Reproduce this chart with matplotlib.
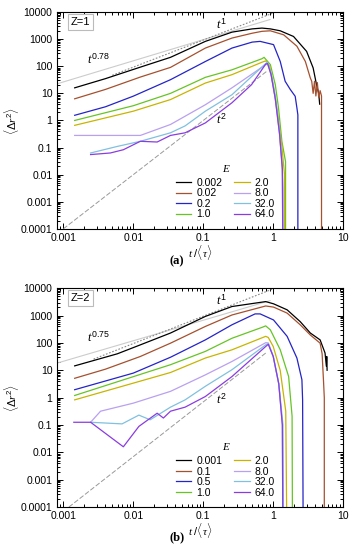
import numpy as np
import matplotlib
matplotlib.use('Agg')
import matplotlib.pyplot as plt
from matplotlib.ticker import LogLocator, FuncFormatter, NullFormatter
from matplotlib.font_manager import FontProperties

plt.rcParams['font.family'] = ['Liberation Sans', 'DejaVu Sans']
plt.rcParams['mathtext.fontset'] = 'custom'
plt.rcParams['mathtext.rm'] = 'Liberation Sans'
plt.rcParams['mathtext.it'] = 'Liberation Serif:italic'
plt.rcParams['mathtext.bf'] = 'Liberation Sans:bold'

labels_a = ['0.002', '0.02', '0.2', '1.0', '2.0', '8.0', '32.0', '64.0']
labels_b = ['0.001', '0.1', '0.5', '1.0', '2.0', '8.0', '32.0', '64.0']
colors = ['#000000', '#a5502e', '#2424c8', '#66c424', '#c8b400',
          '#b9a0f0', '#80c0e0', '#8a3ce0']

# ---- panel (a), Z=1 ----
t_a0 = [0.00145, 0.004, 0.0126, 0.034, 0.107, 0.257, 0.5, 0.69, 0.91, 1.26, 1.95, 3.0, 3.72, 4.17, 4.47, 4.61]
y_a0 = [16, 35, 93, 214, 830, 1820, 2400, 2570, 2400, 2040, 1260, 355, 87, 20, 10, 4]
t_a1 = [0.00145, 0.004, 0.0126, 0.034, 0.107, 0.257, 0.5, 0.69, 0.91, 1.41, 2.18, 2.88, 3.39, 3.55, 3.72, 3.89, 4.07, 4.27, 4.47, 4.68, 4.9, 4.9]
y_a1 = [6.3, 14, 40, 91, 470, 1100, 1660, 1950, 2040, 1450, 550, 150, 37, 28, 10, 28, 8, 25, 7, 12.6, 8, 1e-6]
t_a2 = [0.00145, 0.004, 0.01, 0.034, 0.107, 0.257, 0.5, 0.65, 1.01, 1.26, 1.48, 1.75, 2.06, 2.18, 2.25, 2.25]
y_a2 = [1.55, 3.2, 7.9, 32, 150, 470, 780, 830, 630, 150, 28, 14, 7.8, 2.9, 1.6, 1e-6]
t_a3 = [0.00145, 0.01, 0.034, 0.107, 0.257, 0.69, 0.74, 0.91, 1.07, 1.19, 1.33, 1.5, 1.5]
y_a3 = [1.0, 3.5, 10, 39, 74, 190, 214, 115, 21, 2.9, 0.17, 0.03, 1e-6]
t_a4 = [0.00145, 0.01, 0.034, 0.107, 0.257, 0.69, 0.78, 0.89, 1.0, 1.15, 1.32, 1.45, 1.45]
y_a4 = [0.66, 2.2, 5.9, 24, 49, 141, 158, 100, 20, 2, 0.13, 0.01, 1e-6]
t_a5 = [0.00145, 0.0059, 0.0126, 0.034, 0.107, 0.257, 0.78, 0.83, 0.93, 1.07, 1.23, 1.35, 1.38, 1.38]
y_a5 = [0.28, 0.28, 0.28, 0.71, 3.8, 16, 115, 126, 50, 6.3, 0.32, 0.016, 0.003, 1e-6]
t_a6 = [0.00245, 0.0059, 0.0126, 0.034, 0.055, 0.107, 0.257, 0.78, 0.83, 0.93, 1.07, 1.23, 1.35, 1.38]
y_a6 = [0.063, 0.11, 0.17, 0.35, 0.63, 2.2, 8.9, 126, 141, 56, 7.9, 0.4, 0.02, 1e-6]
t_a7 = [0.00245, 0.0047, 0.0072, 0.0126, 0.0219, 0.034, 0.055, 0.107, 0.257, 0.49, 0.78, 0.83, 0.93, 1.07, 1.23, 1.35, 1.38]
y_a7 = [0.055, 0.063, 0.083, 0.17, 0.16, 0.28, 0.35, 0.81, 4.5, 21, 120, 126, 50, 6.3, 0.32, 0.016, 1e-6]

# ---- panel (b), Z=2 ----
t_b0 = [0.00145, 0.0059, 0.0126, 0.034, 0.107, 0.257, 0.78, 1.01, 1.58, 2.43, 3.39, 4.68, 5.5, 5.75, 5.82, 5.89]
y_b0 = [14.5, 40, 85, 230, 930, 2140, 3240, 2690, 1620, 600, 230, 129, 43, 14, 32, 10]
t_b1 = [0.00145, 0.004, 0.0126, 0.034, 0.107, 0.257, 0.78, 1.01, 1.58, 2.43, 3.39, 4.68, 5.0, 5.25, 5.37, 5.37]
y_b1 = [5.1, 11, 32, 98, 400, 1050, 2240, 2040, 1230, 460, 195, 98, 40, 3.4, 1.0, 1e-6]
t_b2 = [0.00145, 0.01, 0.034, 0.107, 0.257, 0.55, 0.65, 1.01, 1.58, 2.18, 2.57, 2.63, 2.69]
y_b2 = [1.95, 7.9, 30, 129, 460, 1150, 1150, 690, 174, 28, 4.5, 0.83, 1e-6]
t_b3 = [0.00145, 0.034, 0.107, 0.257, 0.71, 0.78, 0.91, 1.26, 1.66, 1.86, 1.89]
y_b3 = [1.2, 16, 49, 148, 380, 420, 300, 56, 5.9, 0.21, 1e-6]
t_b4 = [0.00145, 0.034, 0.107, 0.257, 0.78, 0.85, 1.0, 1.26, 1.51, 1.58]
y_b4 = [0.83, 8.3, 28, 56, 174, 158, 74, 9.8, 0.32, 1e-6]
t_b5 = [0.00245, 0.0034, 0.01, 0.034, 0.107, 0.257, 0.78, 0.85, 1.0, 1.2, 1.35, 1.38]
y_b5 = [0.126, 0.32, 0.63, 1.7, 6.8, 21, 102, 100, 32, 3.2, 0.1, 1e-6]
t_b6 = [0.00245, 0.0069, 0.012, 0.0174, 0.034, 0.055, 0.107, 0.257, 0.78, 0.85, 1.0, 1.2, 1.38, 1.41]
y_b6 = [0.126, 0.11, 0.23, 0.155, 0.45, 0.83, 2.6, 10.5, 85, 95, 32, 3.2, 0.1, 1e-6]
t_b7 = [0.00141, 0.00245, 0.0072, 0.012, 0.0219, 0.0269, 0.034, 0.055, 0.107, 0.257, 0.78, 0.85, 1.0, 1.2, 1.35, 1.38]
y_b7 = [0.126, 0.126, 0.016, 0.089, 0.27, 0.18, 0.32, 0.45, 1.1, 5.9, 74, 89, 32, 3.2, 0.1, 1e-6]

curves_a = [(t_a0, y_a0), (t_a1, y_a1), (t_a2, y_a2), (t_a3, y_a3),
            (t_a4, y_a4), (t_a5, y_a5), (t_a6, y_a6), (t_a7, y_a7)]
curves_b = [(t_b0, y_b0), (t_b1, y_b1), (t_b2, y_b2), (t_b3, y_b3),
            (t_b4, y_b4), (t_b5, y_b5), (t_b6, y_b6), (t_b7, y_b7)]

# guide power laws: (prefactor, exponent, t range)
guides_a = {'slow': (5780, 0.78, (8e-4, 0.9)), 'lin': (9300, 1.0, (0.005, 1.08)), 'quad': (100, 2.0, (0.001, 0.8))}
guides_b = {'slow': (3800, 0.75, (8e-4, 0.9)), 'lin': (9500, 1.0, (0.0027, 1.05)), 'quad': (70, 2.0, (0.0012, 0.8))}


def fmt(v, pos):
    return '%g' % v


def draw_panel(ax, curves, labels, guides, zlabel, slow_txt, txt_pos):
    for name, ls, col, lw in [('slow', '-', '#cccccc', 0.8),
                              ('lin', (0, (1.5, 1.5)), '#888888', 0.8),
                              ('quad', (0, (5, 2)), '#999999', 0.7)]:
        a, p, (t0, t1) = guides[name]
        tt = np.logspace(np.log10(t0), np.log10(t1), 50)
        ax.plot(tt, a * tt ** p, ls=ls, color=col, lw=lw)

    for (t, y), lab, c in zip(curves, labels, colors):
        ax.plot(t, y, color=c, lw=0.9, label=lab)

    ax.set_xscale('log')
    ax.set_yscale('log')
    ax.set_xlim(8e-4, 10)
    ax.set_ylim(1e-4, 1e4)
    ax.yaxis.set_major_locator(LogLocator(base=10, numticks=20))
    ax.yaxis.set_minor_locator(LogLocator(base=10, subs=np.arange(2, 10), numticks=20))
    ax.yaxis.set_minor_formatter(NullFormatter())
    ax.yaxis.set_major_formatter(FuncFormatter(fmt))
    ax.xaxis.set_major_formatter(FuncFormatter(fmt))
    ax.xaxis.set_minor_formatter(NullFormatter())
    ax.tick_params(which='both', direction='in', top=True, right=True, labelsize=7.5, width=0.7)
    ax.tick_params(which='major', length=4, pad=3)
    ax.tick_params(which='minor', length=2)
    for s in ax.spines.values():
        s.set_linewidth(0.8)

    ax.set_xlabel(r'$t\ /\langle\tau\rangle$', fontsize=8, labelpad=0)
    ax.set_ylabel(r'$\langle\Delta r^{2}\rangle$', fontsize=8)
    ax.yaxis.set_label_coords(-0.125, 0.5)

    ax.text(0.05, 0.955, zlabel, transform=ax.transAxes, fontsize=8, va='center', ha='left',
            bbox=dict(boxstyle='square,pad=0.25', fc='white', ec='#bbbbbb', lw=0.8))

    (p1, p2, p3) = txt_pos
    ax.text(p1[0], p1[1], r'$t^{1}$', fontsize=9)
    ax.text(p2[0], p2[1], slow_txt, fontsize=9)
    ax.text(p3[0], p3[1], r'$t^{2}$', fontsize=9)

    leg = ax.legend(ncol=2, loc='lower left', bbox_to_anchor=(0.39, 0.01), frameon=False,
                    fontsize=7.5, handlelength=1.5, handletextpad=0.5, columnspacing=1.1,
                    labelspacing=0.05, borderpad=0.2, title='E',
                    title_fontproperties=FontProperties(family='Liberation Serif', style='italic', size=8))
    leg._legend_box.sep = 3


fig = plt.figure(figsize=(3.56, 5.5), dpi=100)
ax1 = fig.add_axes([0.159, 0.584, 0.805, 0.394])
ax2 = fig.add_axes([0.159, 0.078, 0.805, 0.398])

draw_panel(ax1, curves_a, labels_a, guides_a, 'Z=1', r'$t^{0.78}$',
           [(0.15, 2400), (0.0022, 120), (0.15, 0.75)])
draw_panel(ax2, curves_b, labels_b, guides_b, 'Z=2', r'$t^{0.75}$',
           [(0.15, 2400), (0.0022, 110), (0.15, 0.6)])

fig.text(0.497, 0.525, '(a)', ha='center', va='center', fontsize=9,
         family='Liberation Serif', weight='bold')
fig.text(0.497, 0.023, '(b)', ha='center', va='center', fontsize=9,
         family='Liberation Serif', weight='bold')

fig.savefig('out.png', dpi=100)
